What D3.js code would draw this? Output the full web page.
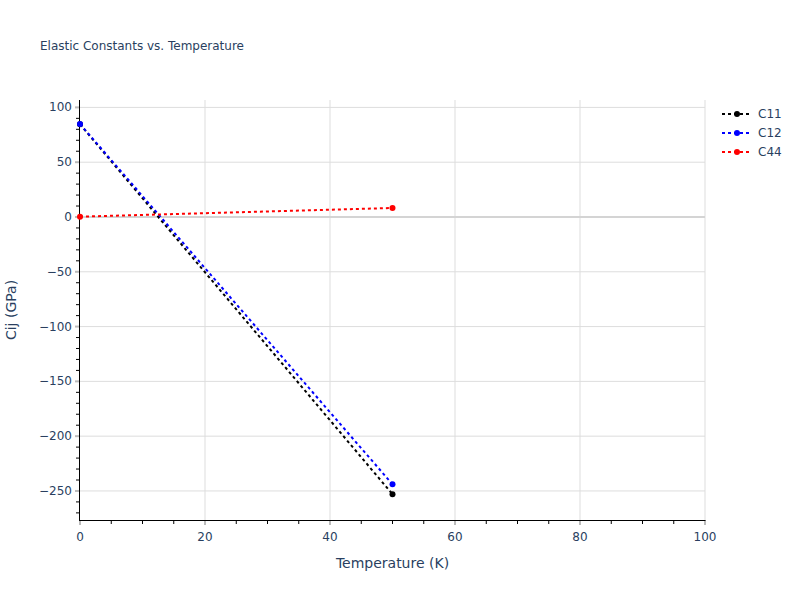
<head>
  <script src="https://d3js.org/d3.v7.min.js"></script>
  <style>
    body { margin: 0; background: #fff; }
    text { font-family: "DejaVu Sans", verdana, arial, sans-serif; fill: #2a3f5f; }
  </style>
</head>
<body>
  <svg id="chart" width="800" height="600" viewBox="0 0 800 600" xmlns="http://www.w3.org/2000/svg"></svg>
  <script>
    // values
    var temps = [0, 50];
    var c11 = [84.6, -253.0];
    var c12 = [84.8, -243.9];
    var c44 = [0.3, 8.2];
    var seriesNames = ["C11", "C12", "C44"];
    var seriesColors = ["#000000", "#0000ff", "#ff0000"];
    var xTicks = [0, 20, 40, 60, 80, 100];
    var yTicks = [-250, -200, -150, -100, -50, 0, 50, 100];

    var series = [c11, c12, c44];

    var svg = d3.select("#chart");
    var mLeft = 80, mRight = 705, mTop = 100, mBottom = 520;

    var x = d3.scaleLinear().domain([0, 100]).range([mLeft, mRight]);
    var y = d3.scaleLinear().domain([-276.5, 106.75]).range([mBottom, mTop]);

    // grid
    var grid = svg.append("g");
    grid.selectAll("line.gx")
      .data(xTicks.filter(function(d) { return d > 0; }))
      .enter().append("line")
      .attr("x1", function(d) { return x(d); })
      .attr("x2", function(d) { return x(d); })
      .attr("y1", mTop).attr("y2", mBottom)
      .attr("stroke", "#dddddd").attr("stroke-width", 1);
    grid.selectAll("line.gy")
      .data(yTicks.filter(function(d) { return d != 0; }))
      .enter().append("line")
      .attr("x1", mLeft).attr("x2", mRight)
      .attr("y1", function(d) { return y(d); })
      .attr("y2", function(d) { return y(d); })
      .attr("stroke", "#dddddd").attr("stroke-width", 1);
    // zero line
    grid.append("line")
      .attr("x1", mLeft).attr("x2", mRight)
      .attr("y1", y(0)).attr("y2", y(0))
      .attr("stroke", "#d4d4d4").attr("stroke-width", 2);

    // minor ticks
    var xMinor = d3.range(5, 100, 5).filter(function(d) { return d % 20 != 0; });
    var yMinor = d3.range(-270, 101, 10).filter(function(d) { return d % 50 != 0; });

    var axes = svg.append("g");
    axes.selectAll("line.mx")
      .data(xMinor).enter().append("line")
      .attr("x1", function(d) { return x(d); })
      .attr("x2", function(d) { return x(d); })
      .attr("y1", mBottom).attr("y2", mBottom + 4)
      .attr("stroke", "#000").attr("stroke-width", 1);
    axes.selectAll("line.my")
      .data(yMinor).enter().append("line")
      .attr("x1", mLeft - 4).attr("x2", mLeft)
      .attr("y1", function(d) { return y(d); })
      .attr("y2", function(d) { return y(d); })
      .attr("stroke", "#000").attr("stroke-width", 1);

    // major ticks
    axes.selectAll("line.tx")
      .data(xTicks).enter().append("line")
      .attr("x1", function(d) { return x(d); })
      .attr("x2", function(d) { return x(d); })
      .attr("y1", mBottom).attr("y2", mBottom + 5)
      .attr("stroke", "#bbbbbb").attr("stroke-width", 2);
    axes.selectAll("line.ty")
      .data(yTicks).enter().append("line")
      .attr("x1", mLeft - 5).attr("x2", mLeft)
      .attr("y1", function(d) { return y(d); })
      .attr("y2", function(d) { return y(d); })
      .attr("stroke", "#bbbbbb").attr("stroke-width", 2);

    // axis lines
    axes.append("line")
      .attr("x1", mLeft).attr("x2", mRight + 0.5)
      .attr("y1", mBottom + 0.5).attr("y2", mBottom + 0.5)
      .attr("stroke", "#000").attr("stroke-width", 1);
    axes.append("line")
      .attr("x1", mLeft - 0.5).attr("x2", mLeft - 0.5)
      .attr("y1", mTop).attr("y2", mBottom + 1)
      .attr("stroke", "#000").attr("stroke-width", 1);

    // tick labels
    var fmt = function(d) { return d < 0 ? "\u2212" + Math.abs(d) : "" + d; };
    axes.selectAll("text.lx")
      .data(xTicks).enter().append("text")
      .attr("x", function(d) { return x(d); })
      .attr("y", mBottom + 21)
      .attr("text-anchor", "middle")
      .attr("font-size", "12px")
      .text(fmt);
    axes.selectAll("text.ly")
      .data(yTicks).enter().append("text")
      .attr("x", mLeft - 8)
      .attr("y", function(d) { return y(d) + 4; })
      .attr("text-anchor", "end")
      .attr("font-size", "12px")
      .text(fmt);

    // titles
    svg.append("text")
      .attr("x", 40).attr("y", 50)
      .attr("font-size", "12px")
      .text("Elastic Constants vs. Temperature");
    svg.append("text")
      .attr("x", (mLeft + mRight) / 2).attr("y", 568)
      .attr("text-anchor", "middle")
      .attr("font-size", "14px")
      .text("Temperature (K)");
    svg.append("text")
      .attr("transform", "translate(16," + ((mTop + mBottom) / 2) + ") rotate(-90)")
      .attr("text-anchor", "middle")
      .attr("font-size", "14px")
      .text("Cij (GPa)");

    // series
    var line = d3.line()
      .x(function(d, i) { return x(temps[i]); })
      .y(function(d) { return y(d); });

    var plot = svg.append("g");
    series.forEach(function(vals, k) {
      plot.append("path")
        .datum(vals)
        .attr("d", line)
        .attr("fill", "none")
        .attr("stroke", seriesColors[k])
        .attr("stroke-width", 2)
        .attr("stroke-dasharray", "3,3");
      plot.selectAll("circle.s" + k)
        .data(vals).enter().append("circle")
        .attr("cx", function(d, i) { return x(temps[i]); })
        .attr("cy", function(d) { return y(d); })
        .attr("r", 3)
        .attr("fill", seriesColors[k]);
    });

    // legend
    var legend = svg.append("g").attr("transform", "translate(722, 114)");
    seriesNames.forEach(function(name, k) {
      var g = legend.append("g").attr("transform", "translate(0," + (k * 19) + ")");
      g.append("line")
        .attr("x1", 0).attr("x2", 30)
        .attr("stroke", seriesColors[k])
        .attr("stroke-width", 2)
        .attr("stroke-dasharray", "3,3");
      g.append("circle").attr("cx", 15).attr("r", 3).attr("fill", seriesColors[k]);
      g.append("text")
        .attr("x", 36).attr("y", 4)
        .attr("font-size", "12px")
        .text(name);
    });
  </script>
</body>
